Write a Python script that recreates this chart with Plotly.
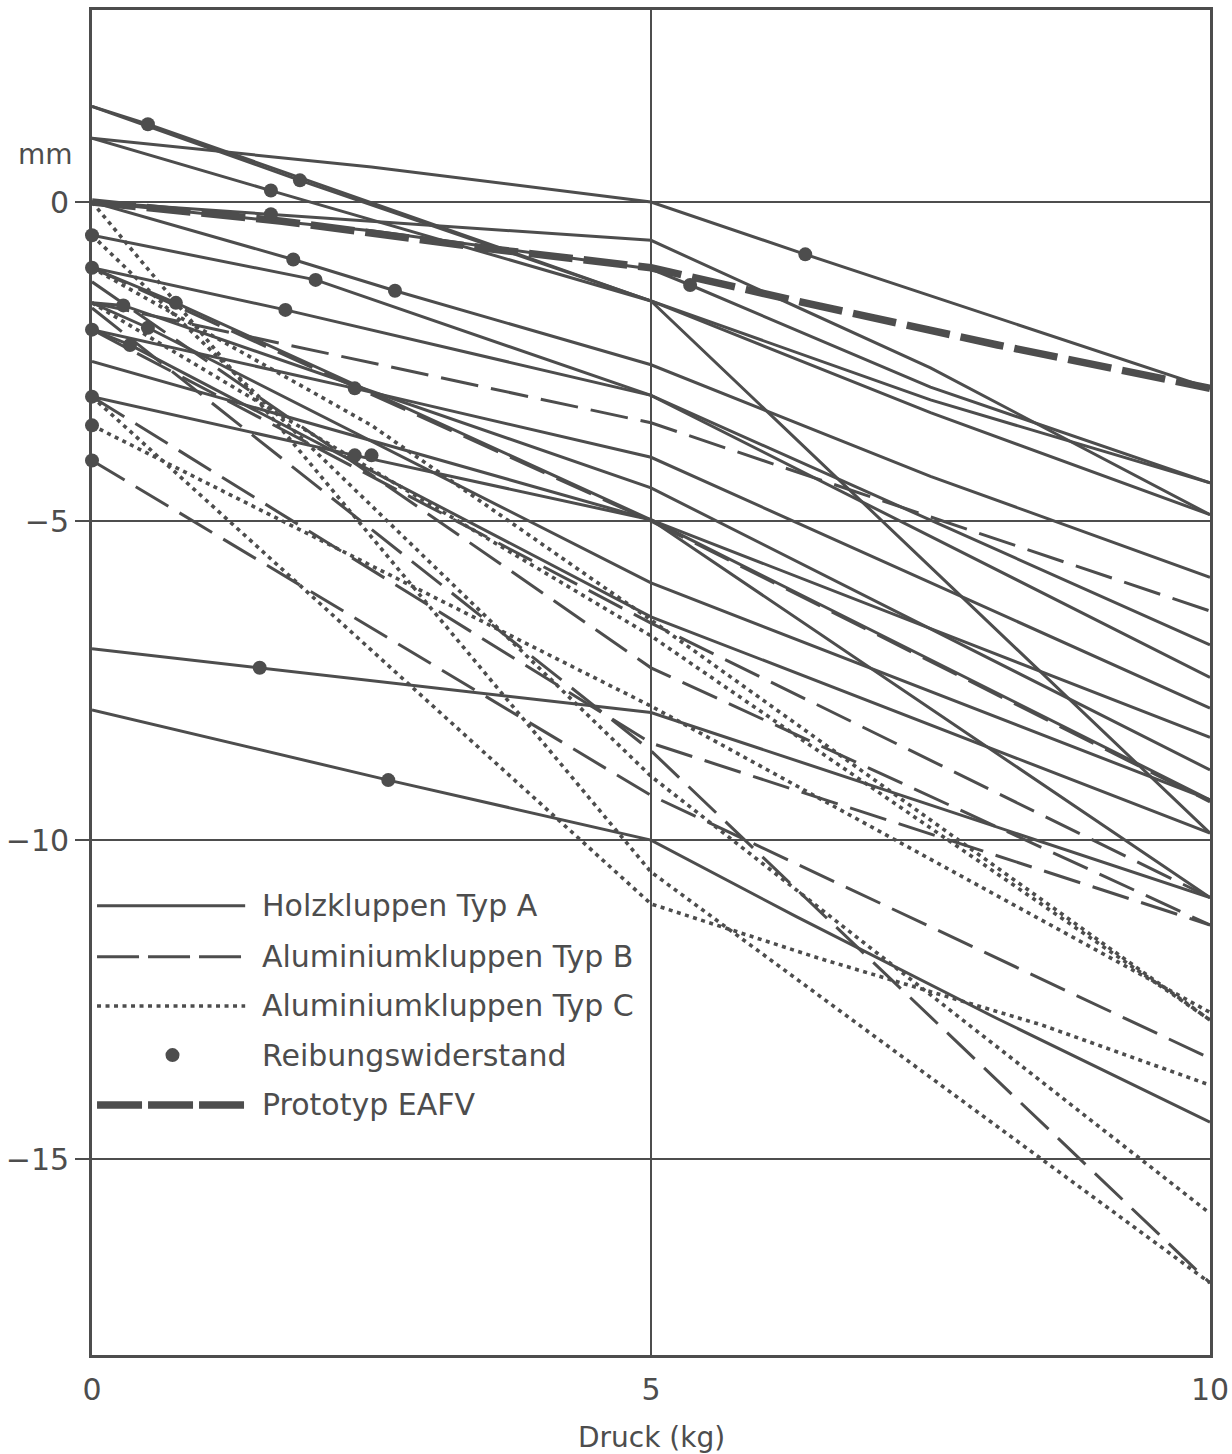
import plotly.graph_objects as go

# ---------------- data ----------------
# Holzkluppen Typ A (solid)
holz_x = [
    [0, 0.5, 5, 10],
    [0, 2.5, 5, 6.38, 10],
    [0, 1.86, 5, 7.5, 10],
    [0, 1.6, 5, 7.5, 10],
    [0, 1.6, 5, 7.5, 10],
    [0, 2.5, 5, 5.35, 7.5, 10],
    [0, 1.8, 2.71, 5, 7.5, 10],
    [0, 2.0, 5, 10],
    [0, 1.73, 5, 10],
    [0, 2.35, 5, 10],
    [0, 2.35, 5, 10],
    [0, 0.28, 5, 10],
    [0, 5, 10],
    [0, 0.34, 5, 10],
    [0, 0.5, 5, 10],
    [0, 0.75, 5, 10],
    [0, 1.5, 5, 10],
    [0, 2.65, 5, 6.3, 8.1, 10],
]
holz_y = [
    [1.5, 1.22, -1.55, -9.89],
    [1.0, 0.55, 0.0, -0.82, -2.92],
    [1.5, 0.34, -1.55, -3.1, -4.4],
    [1.0, 0.18, -1.55, -3.3, -4.9],
    [0.0, -0.19, -0.6, -2.6, -4.9],
    [0.0, -0.45, -1.05, -1.3, -2.9, -4.4],
    [0.0, -0.9, -1.39, -2.55, -4.3, -5.88],
    [-0.52, -1.22, -3.03, -6.94],
    [-1.03, -1.69, -3.03, -7.45],
    [-2.0, -2.92, -4.0, -7.93],
    [-3.05, -3.97, -4.98, -9.37],
    [-1.58, -1.62, -4.48, -8.9],
    [-2.5, -4.98, -8.39],
    [-2.0, -2.24, -6.5, -9.89],
    [-1.58, -1.97, -5.97, -9.37],
    [-1.03, -1.58, -4.98, -10.9],
    [-7.0, -7.3, -8.0, -10.9],
    [-7.96, -9.06, -10.0, -11.2, -12.8, -14.42],
]

# Aluminiumkluppen Typ B (dashed)
alu_b_x = [
    [0, 5, 10],
    [0, 5, 10],
    [0, 5, 10],
    [0, 5, 10],
    [0, 5, 10],
    [0, 5, 10],
    [0, 5, 10],
]
alu_b_y = [
    [-1.58, -3.46, -6.41],
    [-1.03, -5.0, -9.4],
    [-1.25, -7.3, -11.33],
    [-1.66, -8.6, -16.94],
    [-2.0, -6.6, -10.9],
    [-3.05, -8.48, -11.33],
    [-4.05, -9.3, -13.42],
]

# Aluminiumkluppen Typ C (dotted)
alu_c_x = [
    [0, 5, 6.5, 8.5, 10],
    [0, 2.5, 5, 10],
    [0, 5, 10],
    [0, 5, 10],
    [0, 5, 10],
    [0, 5, 10],
]
alu_c_y = [
    [-3.05, -11.0, -11.85, -12.9, -13.84],
    [-1.03, -3.5, -6.55, -12.82],
    [-3.5, -7.9, -12.7],
    [0.0, -10.5, -16.94],
    [-0.52, -9.0, -15.85],
    [-1.58, -6.8, -12.82],
]

# Reibungswiderstand (dots)
reib_x = [0.5, 1.86, 1.6, 1.6, 6.38, 5.35, 1.8, 2.0, 2.71, 1.73, 0, 0, 0.28, 0.75,
          0, 0.5, 0.34, 2.35, 0, 0, 0, 2.35, 2.5, 1.5, 2.65]
reib_y = [1.22, 0.34, 0.18, -0.19, -0.82, -1.3, -0.9, -1.22, -1.39, -1.69, -0.52, -1.03, -1.62, -1.58,
          -2.0, -1.97, -2.24, -2.92, -3.05, -3.5, -4.05, -3.97, -3.97, -7.3, -9.06]

# Prototyp EAFV (thick dashed)
eafv_x = [0, 1.7, 3.5, 5, 6.3, 8.1, 10]
eafv_y = [0, -0.3, -0.72, -1.03, -1.55, -2.24, -2.92]

x_ticks = [0, 5, 10]
y_ticks = [0, -5, -10, -15]
y_ticktext = ["0", "−5", "−10", "−15"]

legend_labels = ["Holzkluppen Typ A", "Aluminiumkluppen Typ B", "Aluminiumkluppen Typ C",
                 "Reibungswiderstand", "Prototyp EAFV"]

# ---------------- styling ----------------
INK = "#4d4d4d"
FONT = "DejaVu Sans"
LW = 3.0
LW_DOT = 3.6
DASH_B = "38px,13px"
DOT_C = "4px,4.5px"
DASH_E = "44px,11px"

fig = go.Figure()

for xs, ys in zip(holz_x, holz_y):
    fig.add_trace(go.Scatter(x=xs, y=ys, mode="lines", line=dict(color=INK, width=LW),
                             showlegend=False, hoverinfo="skip"))
for xs, ys in zip(alu_b_x, alu_b_y):
    fig.add_trace(go.Scatter(x=xs, y=ys, mode="lines", line=dict(color=INK, width=LW, dash=DASH_B),
                             showlegend=False, hoverinfo="skip"))
for xs, ys in zip(alu_c_x, alu_c_y):
    fig.add_trace(go.Scatter(x=xs, y=ys, mode="lines", line=dict(color=INK, width=LW_DOT, dash=DOT_C),
                             showlegend=False, hoverinfo="skip"))
fig.add_trace(go.Scatter(x=eafv_x, y=eafv_y, mode="lines", line=dict(color=INK, width=7.5, dash=DASH_E),
                         showlegend=False, hoverinfo="skip"))
fig.add_trace(go.Scatter(x=reib_x, y=reib_y, mode="markers", marker=dict(color=INK, size=14),
                         showlegend=False, hoverinfo="skip", cliponaxis=False))

# ---------------- manual legend ----------------
row_y = [-11.03, -11.83, -12.6, -13.37, -14.15]
lx0, lx1, tx = 0.045, 1.37, 1.5
fig.add_shape(type="line", xref="x", yref="y", x0=lx0, x1=lx1, y0=row_y[0], y1=row_y[0],
              line=dict(color=INK, width=LW))
fig.add_shape(type="line", xref="x", yref="y", x0=lx0, x1=lx1, y0=row_y[1], y1=row_y[1],
              line=dict(color=INK, width=LW, dash="42px,9px"))
fig.add_shape(type="line", xref="x", yref="y", x0=lx0, x1=lx1, y0=row_y[2], y1=row_y[2],
              line=dict(color=INK, width=LW_DOT, dash=DOT_C))
fig.add_shape(type="circle", xref="x", yref="y", xsizemode="pixel", ysizemode="pixel",
              xanchor=0.72, yanchor=row_y[3], x0=-7, x1=7, y0=-7, y1=7,
              fillcolor=INK, line=dict(color=INK, width=0))
fig.add_shape(type="line", xref="x", yref="y", x0=lx0, x1=lx1, y0=row_y[4], y1=row_y[4],
              line=dict(color=INK, width=7.5, dash="45px,6px"))
for lab, yy in zip(legend_labels, row_y):
    fig.add_annotation(x=tx, y=yy, xref="x", yref="y", text=lab, showarrow=False,
                       xanchor="left", yanchor="middle", font=dict(family=FONT, size=30, color=INK))

# unit label and axis title
fig.add_annotation(x=-0.042, y=0.74, xref="paper", yref="y", text="mm", showarrow=False,
                   xanchor="center", yanchor="middle", font=dict(family=FONT, size=28, color=INK))
fig.add_annotation(x=5, y=-0.061, xref="x", yref="paper", text="Druck (kg)", showarrow=False,
                   xanchor="center", yanchor="middle", font=dict(family=FONT, size=28, color=INK))

fig.update_layout(
    width=1232, height=1454,
    margin=dict(l=92, r=22, t=10, b=99, autoexpand=False),
    paper_bgcolor="white", plot_bgcolor="white",
    font=dict(family=FONT, color=INK, size=29),
    showlegend=False,
)
fig.update_xaxes(range=[0, 10], tickvals=x_ticks, ticktext=[str(v) for v in x_ticks],
                 showgrid=True, gridcolor=INK, gridwidth=2.4, zeroline=False, automargin=False,
                 showline=True, linecolor=INK, linewidth=2.8, mirror=True,
                 ticks="", tickfont=dict(family=FONT, size=30, color=INK), ticklabelstandoff=6)
fig.update_yaxes(range=[-18.07, 3.01], tickvals=y_ticks, ticktext=y_ticktext,
                 showgrid=True, gridcolor=INK, gridwidth=2.4, zeroline=False, automargin=False,
                 showline=True, linecolor=INK, linewidth=2.8, mirror=True,
                 ticks="outside", ticklen=14, tickwidth=2.4, tickcolor=INK,
                 tickfont=dict(family=FONT, size=30, color=INK))

fig.write_html("out.html", config={"displayModeBar": False},
               post_script="document.body.style.margin='0';document.body.style.overflow='hidden';")
